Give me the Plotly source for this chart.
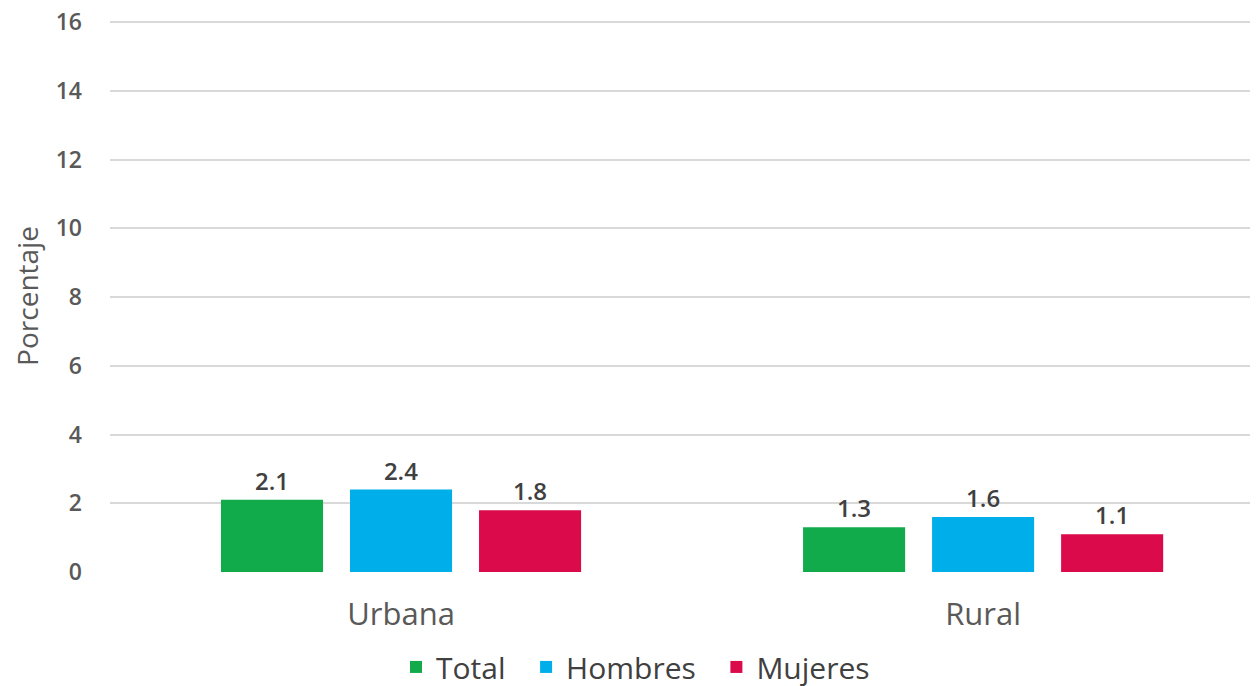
import plotly.graph_objects as go

categories = ["Urbana", "Rural"]
total = [2.1, 1.3]
hombres = [2.4, 1.6]
mujeres = [1.8, 1.1]
y_ticks = [0, 2, 4, 6, 8, 10, 12, 14, 16]

series = [
    ("Total", total, "#11AB4B"),
    ("Hombres", hombres, "#00AEEA"),
    ("Mujeres", mujeres, "#DB0A4A"),
]

fig = go.Figure()
for name, vals, color in series:
    fig.add_trace(go.Bar(
        x=categories, y=vals, name=name + "\u00a0\u00a0",
        marker=dict(color=color, line=dict(width=0)),
        text=[f"{v:.1f}" for v in vals],
        textposition="outside",
        textfont=dict(family="Open Sans", size=24, color="#404040", weight=600),
        cliponaxis=False,
    ))

fig.update_layout(
    width=1258, height=686,
    margin=dict(l=102, r=0, t=12, b=122, autoexpand=False),
    paper_bgcolor="white", plot_bgcolor="white",
    barmode="group", bargap=0.335, bargroupgap=0.209,
    font=dict(family="Open Sans", color="#595959"),
    showlegend=True,
    legend=dict(orientation="h", x=0.4615, xanchor="center", y=-0.172, yanchor="middle",
                font=dict(size=30, color="#404040"), itemwidth=30,
                traceorder="normal"),
    xaxis=dict(range=[-0.5, 1.486], showgrid=False, showline=False, zeroline=False,
               automargin=False,
               tickfont=dict(size=31, color="#595959"), ticks="", ticklabelstandoff=21),
    yaxis=dict(range=[0, 16.06], tickvals=y_ticks, showgrid=True, gridcolor="#D9D9D9",
               gridwidth=1.5, zeroline=False, showline=False, automargin=False,
               ticklabeloverflow="allow",
               tickfont=dict(size=23, color="#595959", weight=600),
               ticklabelstandoff=27,
               title=dict(text="Porcentaje", font=dict(size=28, color="#595959"), standoff=18)),
)

fig.write_html("out.html")
